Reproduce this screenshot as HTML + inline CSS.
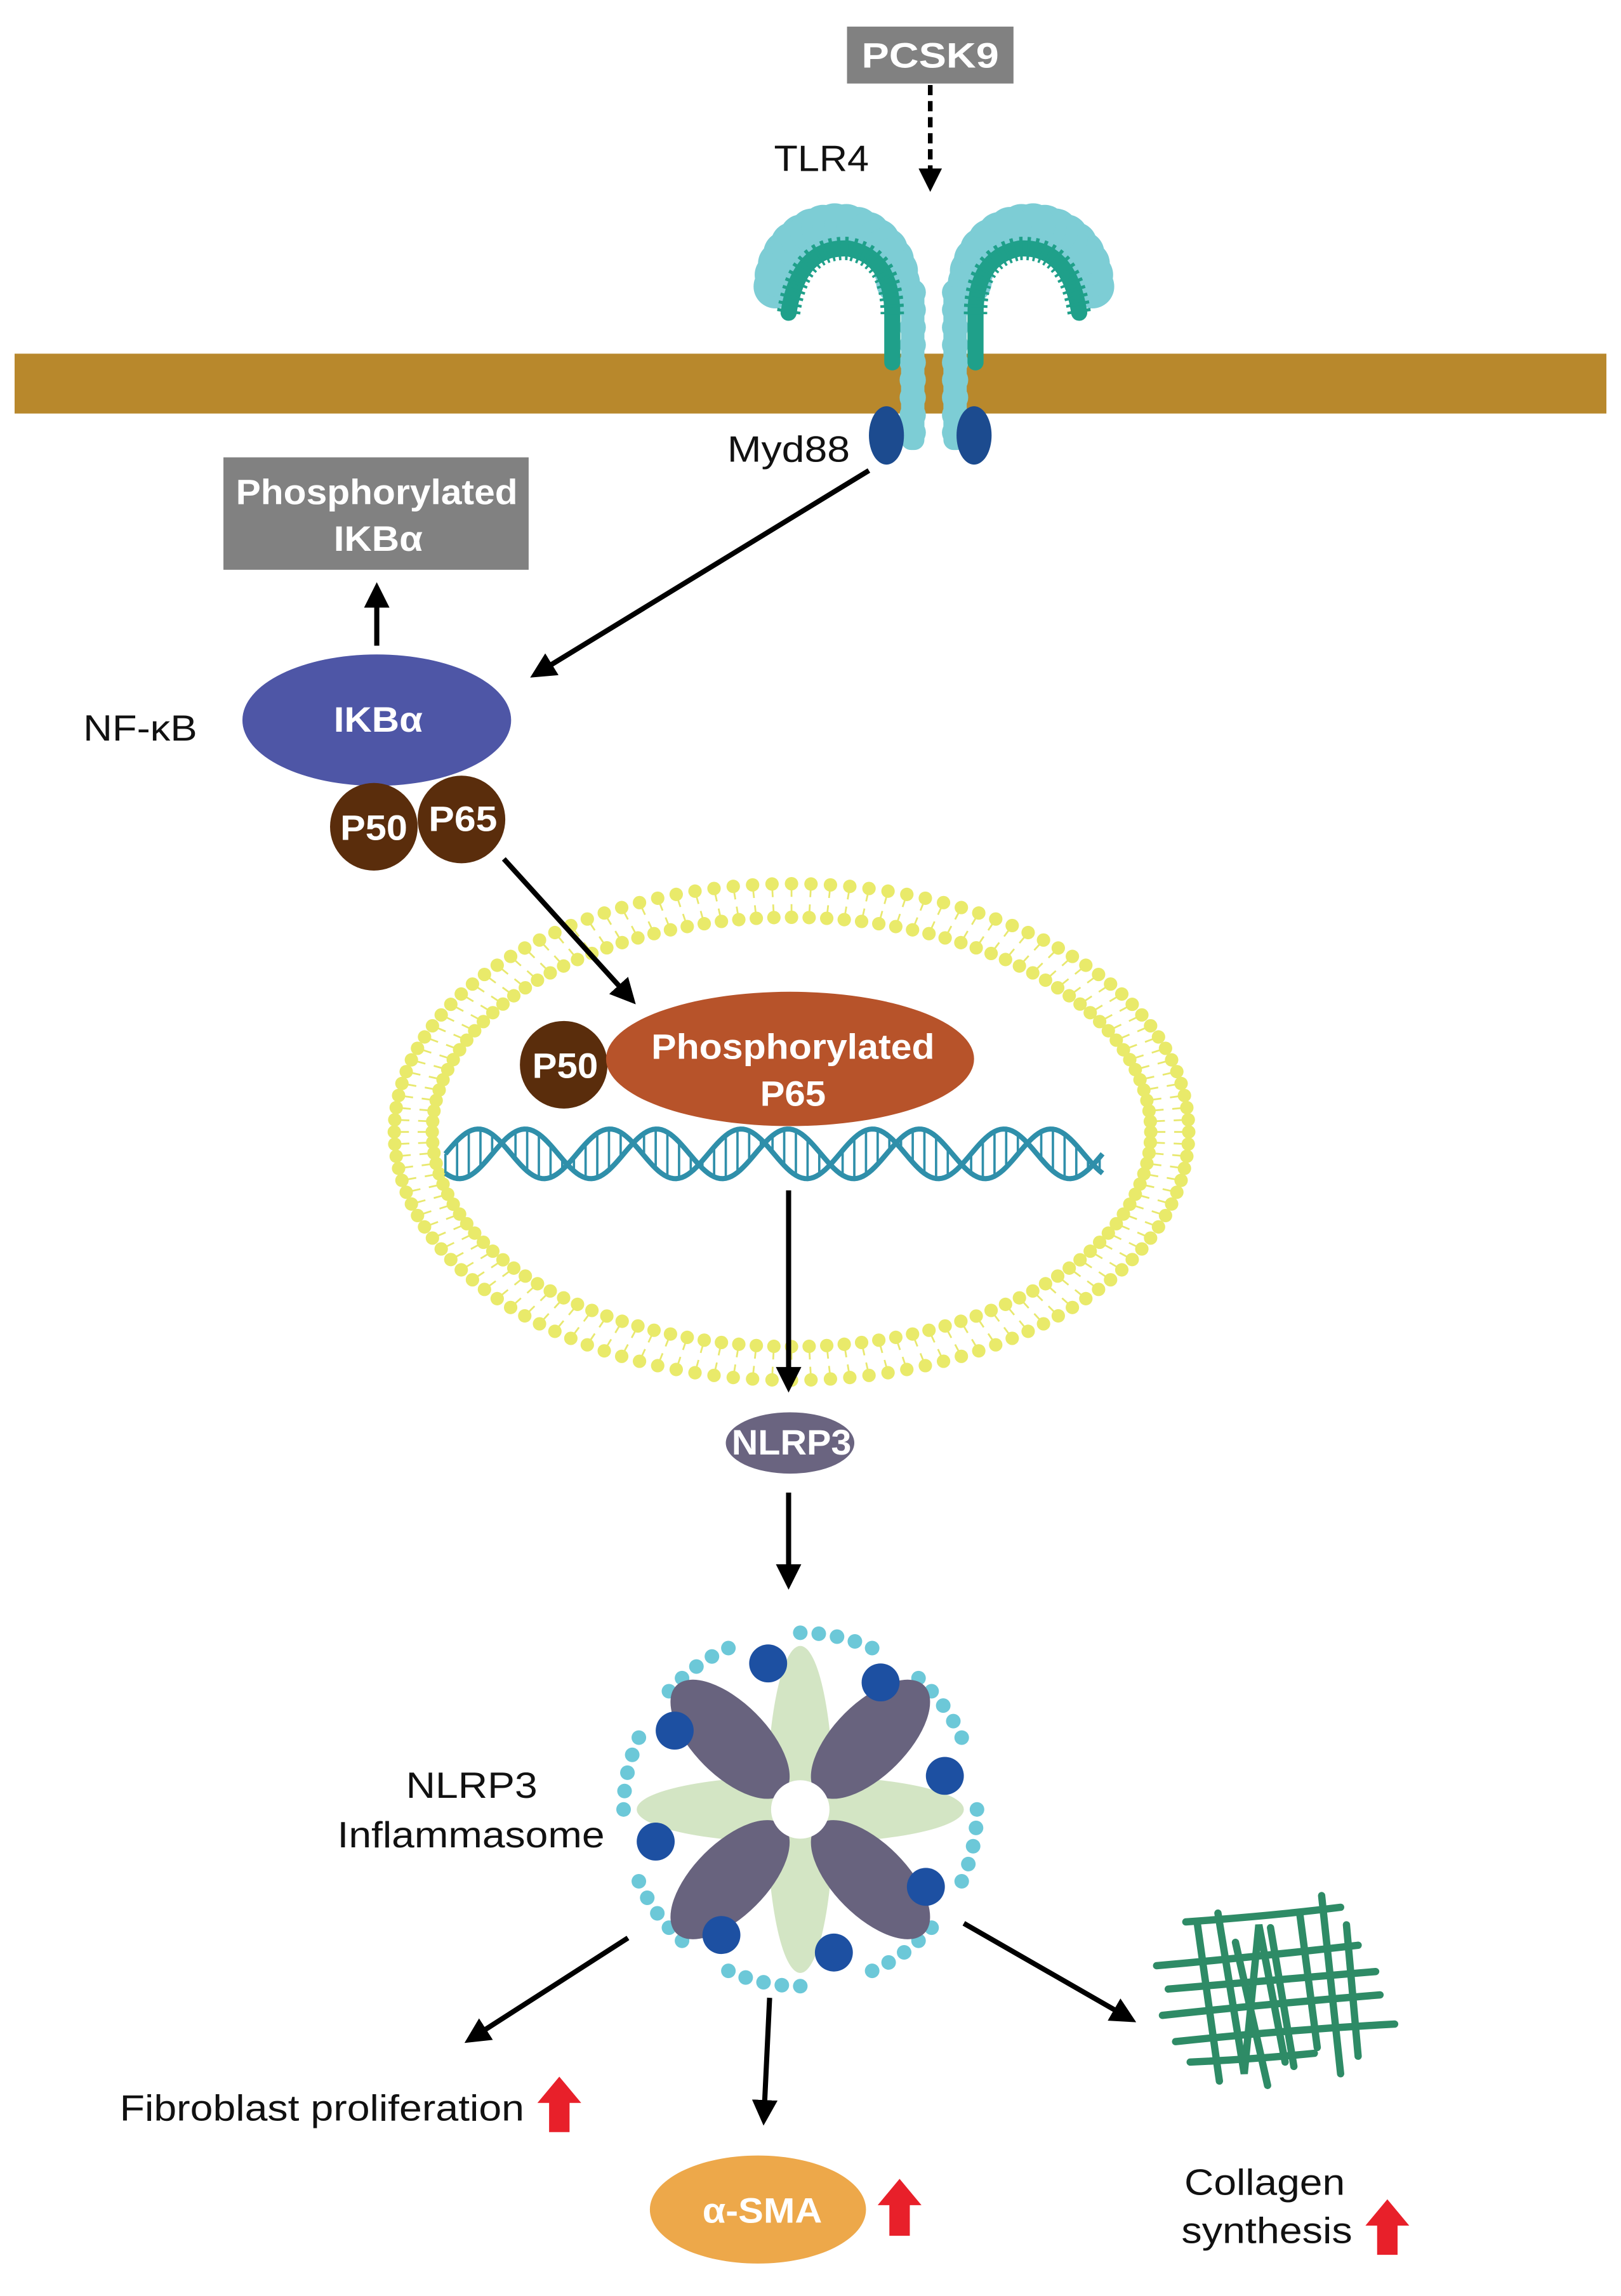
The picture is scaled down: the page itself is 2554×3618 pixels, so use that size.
<!DOCTYPE html>
<html><head><meta charset="utf-8"><style>
html,body{margin:0;padding:0;background:#fff;}
svg{display:block;}
text{font-family:"Liberation Sans",Arial,sans-serif;}
.w{fill:#fff;font-weight:bold;font-size:24px;text-anchor:middle;}
.k{fill:#111;font-size:25px;}
</style></head><body>
<svg id="s" width="2554" height="3618" viewBox="0 0 1110 1572" xmlns="http://www.w3.org/2000/svg">
<defs>
<marker id="ah" markerWidth="5" markerHeight="5" refX="4" refY="2.5" orient="auto" markerUnits="strokeWidth">
<path d="M0,0 L5,2.5 L0,5 z" fill="#000"/></marker>
</defs>
<rect width="1110" height="1572" fill="#fff"/>
<rect x="580" y="18" width="114" height="39" fill="#818181"/>
<text class="w" x="637" y="46" textLength="94" lengthAdjust="spacingAndGlyphs">PCSK9</text>
<line x1="637" y1="58" x2="637" y2="128" stroke="#000" stroke-width="3.2" stroke-dasharray="7,4" marker-end="url(#ah)"/>
<text class="k" x="530" y="117" textLength="65" lengthAdjust="spacingAndGlyphs">TLR4</text>
<rect x="10" y="242" width="1090" height="41" fill="#B8882C"/>
<g id="tlr"></g>
<ellipse cx="607" cy="298" rx="12" ry="20" fill="#1C4B8F"/>
<ellipse cx="667" cy="298" rx="12" ry="20" fill="#1C4B8F"/>
<text class="k" x="498" y="316" textLength="84" lengthAdjust="spacingAndGlyphs">Myd88</text>
<line x1="595" y1="322" x2="366" y2="462" stroke="#000" stroke-width="3.5" marker-end="url(#ah)"/>
<rect x="153" y="313" width="209" height="77" fill="#818181"/>
<text class="w" x="258" y="345" textLength="193" lengthAdjust="spacingAndGlyphs">Phosphorylated</text>
<text class="w" x="259" y="377" textLength="61" lengthAdjust="spacingAndGlyphs">IKBα</text>
<line x1="258" y1="442" x2="258" y2="402" stroke="#000" stroke-width="3.5" marker-end="url(#ah)"/>
<ellipse cx="258" cy="493" rx="92" ry="45" fill="#4E56A6"/>
<text class="w" x="259" y="501" textLength="61" lengthAdjust="spacingAndGlyphs">IKBα</text>
<text class="k" x="57" y="507" textLength="78" lengthAdjust="spacingAndGlyphs">NF-κB</text>
<circle cx="256" cy="566" r="30" fill="#5A2D0C"/>
<circle cx="316" cy="561" r="30" fill="#5A2D0C"/>
<text class="w" x="256" y="575" textLength="46" lengthAdjust="spacingAndGlyphs">P50</text>
<text class="w" x="317" y="569" textLength="47" lengthAdjust="spacingAndGlyphs">P65</text>
<g id="bil"></g>
<line x1="345" y1="588" x2="433" y2="685" stroke="#000" stroke-width="3.5" marker-end="url(#ah)"/>
<g id="dna"></g>
<circle cx="386" cy="729" r="30" fill="#5A2D0C"/>
<text class="w" x="387" y="738" textLength="45" lengthAdjust="spacingAndGlyphs">P50</text>
<ellipse cx="541" cy="725" rx="126" ry="46" fill="#B7532A"/>
<text class="w" x="543" y="725" textLength="194" lengthAdjust="spacingAndGlyphs">Phosphorylated</text>
<text class="w" x="543" y="757" textLength="45" lengthAdjust="spacingAndGlyphs">P65</text>
<line x1="540" y1="815" x2="540" y2="950" stroke="#000" stroke-width="3.5" marker-end="url(#ah)"/>
<ellipse cx="541" cy="988" rx="44" ry="21" fill="#6A6480"/>
<text class="w" x="542" y="996" textLength="82" lengthAdjust="spacingAndGlyphs">NLRP3</text>
<line x1="540" y1="1022" x2="540" y2="1085" stroke="#000" stroke-width="3.5" marker-end="url(#ah)"/>
<g id="inf"></g>
<text class="k" x="278" y="1231" textLength="90" lengthAdjust="spacingAndGlyphs">NLRP3</text>
<text class="k" x="231" y="1265" textLength="183" lengthAdjust="spacingAndGlyphs">Inflammasome</text>
<line x1="430" y1="1327" x2="321" y2="1397" stroke="#000" stroke-width="3.5" marker-end="url(#ah)"/>
<line x1="527" y1="1368" x2="523" y2="1452" stroke="#000" stroke-width="3.5" marker-end="url(#ah)"/>
<line x1="660" y1="1317" x2="775" y2="1383" stroke="#000" stroke-width="3.5" marker-end="url(#ah)"/>
<text class="k" x="82" y="1452" textLength="277" lengthAdjust="spacingAndGlyphs">Fibroblast proliferation</text>
<ellipse cx="519" cy="1513" rx="74" ry="37" fill="#EDA84A"/>
<text class="w" x="522" y="1522" textLength="82" lengthAdjust="spacingAndGlyphs">α-SMA</text>
<text class="k" x="811" y="1503" textLength="110" lengthAdjust="spacingAndGlyphs">Collagen</text>
<text class="k" x="809" y="1536" textLength="117" lengthAdjust="spacingAndGlyphs">synthesis</text>
<g fill="#E8202A">
<path d="M383,1422 L398,1440 L390,1440 L390,1460 L376,1460 L376,1440 L368,1440 z"/>
<path d="M616,1492 L631,1510 L623,1510 L623,1531 L609,1531 L609,1510 L601,1510 z"/>
<path d="M950,1506 L965,1524 L957,1524 L957,1544 L943,1544 L943,1524 L935,1524 z"/>
</g>
<g id="col" stroke="#2E8B66" stroke-width="5" fill="none" stroke-linecap="round">
<path d="M792,1346 Q860,1340 930,1332"/>
<path d="M800,1362 Q870,1356 942,1350"/>
<path d="M796,1380 Q870,1372 945,1366"/>
<path d="M805,1398 Q880,1390 955,1386"/>
<path d="M812,1316 Q870,1312 918,1306"/>
<path d="M815,1412 Q860,1410 900,1406"/>
<path d="M820,1318 L835,1425"/>
<path d="M834,1310 L852,1420 L862,1318 L880,1412"/>
<path d="M870,1320 L886,1415"/>
<path d="M890,1310 L902,1402"/>
<path d="M905,1298 L918,1420"/>
<path d="M922,1318 L930,1408"/>
<path d="M846,1330 L868,1428"/>
</g>
</svg>
<script>
var NS="http://www.w3.org/2000/svg";
function el(p,t,a){var e=document.createElementNS(NS,t);for(var k in a)e.setAttribute(k,a[k]);p.appendChild(e);return e;}
var t=document.getElementById('tlr');
function rec(cx,dir){
 var hx=cx-dir*52, hy=196, R=42;
 for(var a=0;a<=180;a+=11){var r=a*Math.PI/180;
   var x=hx-dir*R*Math.cos(r), y=hy-R*Math.sin(r);
   el(t,'circle',{cx:x,cy:y,r:15,fill:'#7DCDD5'});}
 for(var y=200;y<300;y+=12) el(t,'circle',{cx:cx,cy:y,r:9,fill:'#7DCDD5'});
 el(t,'rect',{x:cx-8,y:196,width:16,height:112,rx:7,fill:'#7DCDD5'});
 var sx=cx-dir*14;
 var d='M'+(hx-dir*33)+',214 Q'+(hx-dir*26)+',168 '+(hx+dir*8)+',170 Q'+sx+',176 '+sx+',215';
 el(t,'path',{d:d+' L'+sx+',248',stroke:'#1FA08A','stroke-width':11,fill:'none','stroke-linecap':'round'});
 el(t,'path',{d:d,stroke:'#1FA08A','stroke-width':16,fill:'none','stroke-dasharray':'2,3'});
}
rec(625,1);rec(654,-1);
var b=document.getElementById('bil');var cx=542,cy=775,N=128;
for(var i=0;i<N;i++){var a=i/N*2*Math.PI,c=Math.cos(a),s=Math.sin(a);
 var ox=cx+272*c,oy=cy+170*s,ix=cx+246*c,iy=cy+147*s;
 var mx=cx+262*c,my=cy+161*s,nx=cx+256*c,ny=cy+156*s;
 el(b,'line',{x1:ox,y1:oy,x2:mx,y2:my,stroke:'#E8E86E','stroke-width':1.2});
 el(b,'line',{x1:ix,y1:iy,x2:nx,y2:ny,stroke:'#E8E86E','stroke-width':1.2});
 el(b,'circle',{cx:ox,cy:oy,r:4.6,fill:'#E9EA6A'});
 el(b,'circle',{cx:ix,cy:iy,r:4.6,fill:'#E9EA6A'});}
var d=document.getElementById('dna');var p1='',p2='';
for(var x=305;x<=755;x+=2){var ph=(x-305)/90*2*Math.PI;var y1=790-17*Math.sin(ph),y2=790+17*Math.sin(ph+0.9);
 p1+=(x==305?'M':'L')+x+','+y1;p2+=(x==305?'M':'L')+x+','+y2;
 if((x-305)%8==0) el(d,'line',{x1:x,y1:y1,x2:x,y2:y2,stroke:'#2F8FAA','stroke-width':1.6});}
el(d,'path',{d:p1,stroke:'#2F8FAA','stroke-width':3.5,fill:'none'});
el(d,'path',{d:p2,stroke:'#2F8FAA','stroke-width':3.5,fill:'none'});
var g=document.getElementById('inf');var X=548,Y=1239;
var blues=[[-22,-100],[55,-87],[99,-23],[86,53],[23,98],[-54,86],[-99,22],[-86,-54]];
var bang=blues.map(function(p){return Math.atan2(p[1],p[0]);});
for(var i=0;i<60;i++){var a=i/60*2*Math.PI;var skip=false;
 bang.forEach(function(q){var dd=Math.abs(Math.atan2(Math.sin(a-q),Math.cos(a-q)));if(dd<0.13)skip=true;});
 if(!skip) el(g,'circle',{cx:X+121*Math.cos(a),cy:Y+121*Math.sin(a),r:5,fill:'#6CC8D8'});}
el(g,'ellipse',{cx:X,cy:Y,rx:23,ry:112,fill:'#D3E5C4'});
el(g,'ellipse',{cx:X,cy:Y,rx:112,ry:23,fill:'#D3E5C4'});
[45,135,225,315].forEach(function(an){var r=an*Math.PI/180;var ex=X+68*Math.cos(r),ey=Y+68*Math.sin(r);
 el(g,'ellipse',{cx:ex,cy:ey,rx:52,ry:25,fill:'#68637E',transform:'rotate('+an+' '+ex+' '+ey+')'});});
el(g,'circle',{cx:X,cy:Y,r:20,fill:'#fff'});
blues.forEach(function(p){el(g,'circle',{cx:X+p[0],cy:Y+p[1],r:13,fill:'#1D50A2'});});
</script>
</body></html>
